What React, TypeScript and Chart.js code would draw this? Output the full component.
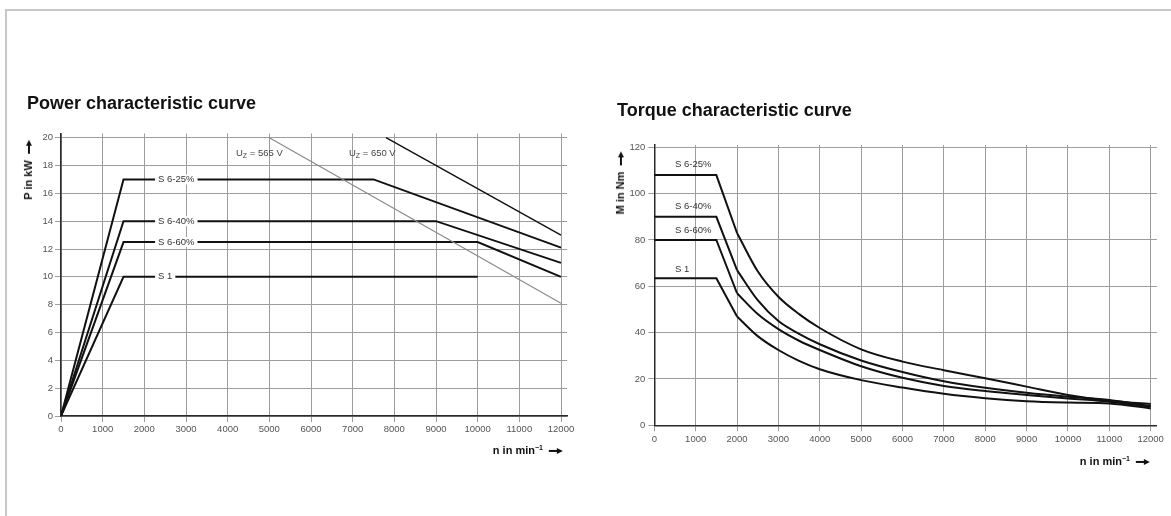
import React, { useEffect, useRef } from "react";
import { Chart, registerables } from "chart.js";

Chart.register(...registerables);

// ---------- Power characteristic curve (P in kW over n in 1/min) ----------
const P_S625_N = [0, 1500, 7500, 12000];
const P_S625_KW = [0, 17, 17, 12.1];
const P_S640_N = [0, 1500, 9000, 12000];
const P_S640_KW = [0, 14, 14, 11];
const P_S660_N = [0, 1500, 10000, 12000];
const P_S660_KW = [0, 12.5, 12.5, 10];
const P_S1_N = [0, 1500, 10000];
const P_S1_KW = [0, 10, 10];
const UZ565_N = [5000, 12000];
const UZ565_KW = [20, 8.1];
const UZ650_N = [7800, 12000];
const UZ650_KW = [20, 13];

const DUTY_LABELS = ["S 6-25%", "S 6-40%", "S 6-60%", "S 1"];
const POWER_LABEL_N = 2330;
const POWER_LABEL_KW = [17, 14, 12.5, 10];
const UZ_LABEL_VALUES = ["= 565 V", "= 650 V"];
const UZ_LABEL_N = [4200, 6910];
const UZ_LABEL_KW = 18.85;

// ---------- Torque characteristic curve (M in Nm over n in 1/min) ----------
const M_N = [0, 1500, 2000, 2500, 3000, 3500, 4000, 5000, 6000, 7000, 8000, 9000, 10000, 11000, 12000];
const M_S625 = [108, 108, 83, 66.5, 55.5, 48, 42, 32.8, 27.5, 23.8, 20.3, 16.7, 13.1, 10.6, 9.2];
const M_S640 = [90, 90, 67, 54, 45, 39.5, 35, 28, 23, 19, 16.2, 14, 12.3, 10.9, 8.3];
const M_S660 = [80, 80, 57, 48, 41.5, 36.5, 32.5, 25.5, 20.5, 17, 14.8, 13.1, 11.6, 10.2, 8.0];
const M_S1 = [63.5, 63.5, 47, 38.5, 32.5, 27.8, 24.2, 19.5, 16.3, 13.6, 11.7, 10.4, 9.8, 9.4, 7.3];
const TORQUE_LABEL_N = 500;
const TORQUE_LABEL_NM = [112.6, 94.4, 84.3, 67.5];

// ---------- Tick values ----------
const X_TICKS = [0, 1000, 2000, 3000, 4000, 5000, 6000, 7000, 8000, 9000, 10000, 11000, 12000];
const POWER_Y_TICKS = [0, 2, 4, 6, 8, 10, 12, 14, 16, 18, 20];
const TORQUE_Y_TICKS = [0, 20, 40, 60, 80, 100, 120];

const FONT = '"Liberation Sans", Arial, Helvetica, sans-serif';
const GRID = "#9d9d9d";
const AXIS = "#2a2a2a";
const INK = "#111";

const pts = (xs: number[], ys: number[]) => xs.map((x, i) => ({ x, y: ys[i] }));

function baseScales(xMax: number, yMax: number, yTicks: number[], yWidth: number, xHeight: number, yPad: number) {
  const tickFont = { family: FONT, size: 9.5 };
  return {
    x: {
      type: "linear",
      min: 0,
      max: xMax,
      afterBuildTicks: (s: any) => {
        s.ticks = X_TICKS.map((value) => ({ value }));
      },
      ticks: {
        autoSkip: false,
        maxRotation: 0,
        padding: 2,
        color: "#555",
        font: tickFont,
        callback: (v: number) => String(v),
      },
      grid: { color: GRID, lineWidth: 1, tickLength: 6, tickColor: GRID },
      border: { display: true, color: AXIS, width: 1.5 },
      afterFit: (s: any) => {
        s.height = xHeight;
      },
    },
    y: {
      type: "linear",
      min: 0,
      max: yMax,
      afterBuildTicks: (s: any) => {
        s.ticks = yTicks.map((value) => ({ value }));
      },
      ticks: {
        autoSkip: false,
        padding: yPad,
        color: "#555",
        font: tickFont,
        callback: (v: number) => String(v),
      },
      grid: { color: GRID, lineWidth: 1, tickLength: 6, tickColor: GRID },
      border: { display: true, color: AXIS, width: 1.5 },
      afterFit: (s: any) => {
        s.width = yWidth;
      },
    },
  };
}

const lineDs = (data: any[], color = INK, width = 2) => ({
  data,
  borderColor: color,
  borderWidth: width,
  pointRadius: 0,
  tension: 0,
  fill: false,
});

const curveDs = (data: any[]) => ({
  ...lineDs(data),
  cubicInterpolationMode: "monotone",
});

const powerLabelPlugin = {
  id: "powerLabels",
  afterDatasetsDraw(chart: any) {
    const { ctx, scales } = chart;
    const x = scales.x;
    const y = scales.y;
    ctx.save();
    ctx.textBaseline = "middle";
    ctx.font = `9.5px ${FONT}`;
    DUTY_LABELS.forEach((t, i) => {
      const px = x.getPixelForValue(POWER_LABEL_N);
      const py = y.getPixelForValue(POWER_LABEL_KW[i]);
      const w = ctx.measureText(t).width;
      ctx.fillStyle = "#fff";
      ctx.fillRect(px - 3, py - 5, w + 6, 10);
      ctx.fillStyle = "#333";
      ctx.fillText(t, px, py);
    });
    UZ_LABEL_VALUES.forEach((t, i) => {
      let px = x.getPixelForValue(UZ_LABEL_N[i]);
      const py = y.getPixelForValue(UZ_LABEL_KW);
      ctx.fillStyle = "#444";
      ctx.font = `9.5px ${FONT}`;
      ctx.fillText("U", px, py);
      px += ctx.measureText("U").width;
      ctx.font = `7px ${FONT}`;
      ctx.fillText("Z", px, py + 2);
      px += ctx.measureText("Z").width;
      ctx.font = `9.5px ${FONT}`;
      ctx.fillText(" " + t, px, py);
    });
    ctx.restore();
  },
};

const torqueLabelPlugin = {
  id: "torqueLabels",
  afterDatasetsDraw(chart: any) {
    const { ctx, scales } = chart;
    ctx.save();
    ctx.textBaseline = "middle";
    ctx.font = `9.5px ${FONT}`;
    ctx.fillStyle = "#333";
    DUTY_LABELS.forEach((t, i) => {
      ctx.fillText(t, scales.x.getPixelForValue(TORQUE_LABEL_N), scales.y.getPixelForValue(TORQUE_LABEL_NM[i]));
    });
    ctx.restore();
  },
};

function Arrow() {
  return (
    <span style={{ display: "inline-block", position: "relative", width: 14, height: 10, verticalAlign: "middle", marginLeft: 6 }}>
      <span style={{ position: "absolute", left: 0, top: 3.8, width: 9, height: 2.6, background: INK }} />
      <span
        style={{
          position: "absolute",
          left: 8,
          top: 1.6,
          width: 0,
          height: 0,
          borderTop: "3.5px solid transparent",
          borderBottom: "3.5px solid transparent",
          borderLeft: "6px solid " + INK,
        }}
      />
    </span>
  );
}

const axisTitleFont: React.CSSProperties = {
  position: "absolute",
  whiteSpace: "nowrap",
  font: `bold 11px ${FONT}`,
  color: INK,
  lineHeight: "12px",
};

function YTitle({ cx, cy, text }: { cx: number; cy: number; text: string }) {
  return (
    <div style={{ ...axisTitleFont, left: cx, top: cy, transform: "translate(-50%,-50%) rotate(-90deg)" }}>
      {text}
      <Arrow />
    </div>
  );
}

function XTitle({ right, cy }: { right: number; cy: number }) {
  return (
    <div style={{ ...axisTitleFont, left: right, top: cy, transform: "translate(-100%,-50%)" }}>
      n in min<sup style={{ fontSize: 7, verticalAlign: "4px", lineHeight: 0 }}>−1</sup>
      <Arrow />
    </div>
  );
}

export default function App() {
  const powerRef = useRef<HTMLCanvasElement | null>(null);
  const torqueRef = useRef<HTMLCanvasElement | null>(null);

  useEffect(() => {
    const power = new Chart(powerRef.current as HTMLCanvasElement, {
      type: "line",
      data: {
        datasets: [
          lineDs(pts(UZ565_N, UZ565_KW), "#8a8a8a", 1.2),
          lineDs(pts(UZ650_N, UZ650_KW), INK, 1.4),
          lineDs(pts(P_S625_N, P_S625_KW)),
          lineDs(pts(P_S640_N, P_S640_KW)),
          lineDs(pts(P_S660_N, P_S660_KW)),
          lineDs(pts(P_S1_N, P_S1_KW)),
        ] as any,
      },
      options: {
        animation: false,
        responsive: false,
        events: [],
        layout: { padding: { top: 133.5, right: 22.75, left: 0, bottom: 0 } },
        plugins: { legend: { display: false }, tooltip: { enabled: false }, title: { display: false } },
        scales: baseScales(12150, 20.3, POWER_Y_TICKS, 61, 100, 2) as any,
      } as any,
      plugins: [powerLabelPlugin],
    });

    const split = (ys: number[]) => [lineDs(pts(M_N.slice(0, 3), ys.slice(0, 3))), curveDs(pts(M_N.slice(2), ys.slice(2)))];

    const torque = new Chart(torqueRef.current as HTMLCanvasElement, {
      type: "line",
      data: {
        datasets: [...split(M_S625), ...split(M_S640), ...split(M_S660), ...split(M_S1)] as any,
      },
      options: {
        animation: false,
        responsive: false,
        events: [],
        layout: { padding: { top: 145, right: 14.1, left: 0, bottom: 0 } },
        plugins: { legend: { display: false }, tooltip: { enabled: false }, title: { display: false } },
        scales: baseScales(12150, 121, TORQUE_Y_TICKS, 64.3, 90.7, 3) as any,
      } as any,
      plugins: [torqueLabelPlugin],
    });

    return () => {
      power.destroy();
      torque.destroy();
    };
  }, []);

  const titleStyle: React.CSSProperties = {
    position: "absolute",
    font: `bold 18px ${FONT}`,
    lineHeight: "18px",
    color: INK,
    whiteSpace: "nowrap",
  };

  return (
    <div style={{ position: "fixed", left: 0, top: 0, width: 1171, height: 516, background: "#fff", overflow: "hidden" }}>
      <div
        style={{
          position: "absolute",
          left: 5,
          top: 9,
          width: 1200,
          height: 600,
          borderTop: "2px solid #c8c8c8",
          borderLeft: "2px solid #c8c8c8",
        }}
      />
      <canvas ref={powerRef} width={590} height={516} style={{ position: "absolute", left: 0, top: 0, width: 590, height: 516 }} />
      <canvas ref={torqueRef} width={581} height={516} style={{ position: "absolute", left: 590, top: 0, width: 581, height: 516 }} />
      <div style={{ ...titleStyle, left: 27, top: 94 }}>Power characteristic curve</div>
      <div style={{ ...titleStyle, left: 617, top: 100.8 }}>Torque characteristic curve</div>
      <YTitle cx={28} cy={170} text="P in kW" />
      <YTitle cx={620} cy={182.5} text="M in Nm" />
      <XTitle right={563} cy={450} />
      <XTitle right={1150} cy={461} />
    </div>
  );
}
